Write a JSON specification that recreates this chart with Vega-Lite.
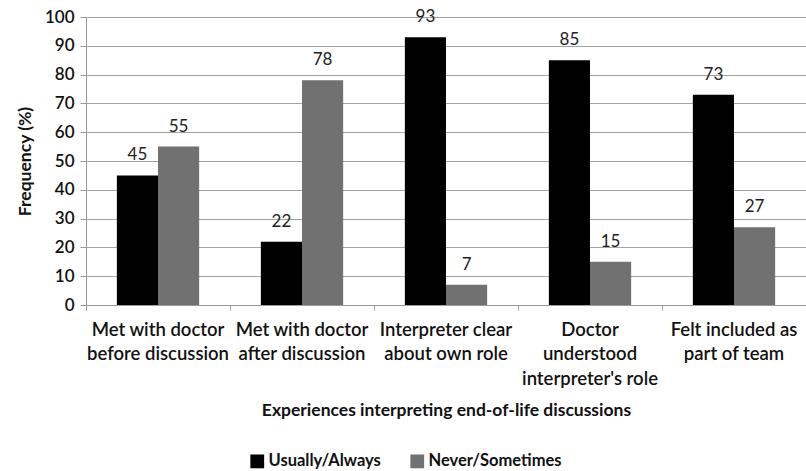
{
  "$schema": "https://vega.github.io/schema/vega-lite/v6.json",
  "autosize": {"type": "none"},
  "width": 720,
  "height": 288,
  "padding": {"left": 86, "top": 17, "right": 0, "bottom": 166},
  "background": "white",
  "config": {
    "font": "Lato",
    "view": {"stroke": null}
  },
  "data": {
    "values": [
      {"cat": "Met with doctor|before discussion", "group": "Usually/Always", "value": 45},
      {"cat": "Met with doctor|before discussion", "group": "Never/Sometimes", "value": 55},
      {"cat": "Met with doctor|after discussion", "group": "Usually/Always", "value": 22},
      {"cat": "Met with doctor|after discussion", "group": "Never/Sometimes", "value": 78},
      {"cat": "Interpreter clear|about own role", "group": "Usually/Always", "value": 93},
      {"cat": "Interpreter clear|about own role", "group": "Never/Sometimes", "value": 7},
      {"cat": "Doctor|understood|interpreter's role", "group": "Usually/Always", "value": 85},
      {"cat": "Doctor|understood|interpreter's role", "group": "Never/Sometimes", "value": 15},
      {"cat": "Felt included as|part of team", "group": "Usually/Always", "value": 73},
      {"cat": "Felt included as|part of team", "group": "Never/Sometimes", "value": 27}
    ]
  },
  "encoding": {
    "x": {
      "field": "cat",
      "type": "nominal",
      "sort": ["Met with doctor|before discussion", "Met with doctor|after discussion", "Interpreter clear|about own role", "Doctor|understood|interpreter's role", "Felt included as|part of team"],
      "scale": {"paddingInner": 0, "paddingOuter": 0},
      "axis": {
        "title": "Experiences interpreting end-of-life discussions",
        "titleFont": "Lato",
        "titleFontSize": 17.5,
        "titleFontWeight": "bold",
        "titleColor": "#111",
        "titlePadding": 14,
        "labelExpr": "split(datum.label, '|')",
        "labelAngle": 0,
        "labelFontSize": 18.5,
        "labelFontWeight": 600,
        "labelColor": "#111",
        "labelLineHeight": 24.5,
        "labelPadding": 10,
        "bandPosition": 0,
        "tickColor": "#999",
        "tickSize": 5,
        "domainColor": "#999",
        "grid": false
      }
    },
    "xOffset": {
      "field": "group",
      "type": "nominal",
      "sort": ["Usually/Always", "Never/Sometimes"],
      "scale": {"paddingInner": 0, "paddingOuter": 0.75}
    },
    "y": {
      "field": "value",
      "type": "quantitative",
      "scale": {"domain": [0, 100]},
      "axis": {
        "title": "Frequency (%)",
        "titleFontSize": 17.5,
        "titleFontWeight": "bold",
        "titleColor": "#111",
        "titlePadding": 10,
        "values": [0, 10, 20, 30, 40, 50, 60, 70, 80, 90, 100],
        "labelFontSize": 17,
        "labelFontWeight": 600,
        "labelColor": "#111",
        "labelPadding": 6,
        "tickColor": "#999",
        "tickSize": 6,
        "domainColor": "#999",
        "gridColor": "#a3a3a3",
        "gridWidth": 1.2
      }
    }
  },
  "layer": [
    {
      "mark": {"type": "bar"},
      "encoding": {
        "color": {
          "field": "group",
          "type": "nominal",
          "scale": {"domain": ["Usually/Always", "Never/Sometimes"], "range": ["#000000", "#717171"]},
          "legend": {
            "title": null,
            "orient": "none",
            "legendX": 163,
            "legendY": 436,
            "direction": "horizontal",
            "symbolType": "square",
            "symbolSize": 190,
            "symbolStrokeWidth": 0,
            "symbolOpacity": 1,
            "labelFontSize": 16.5,
            "labelFontWeight": "bold",
            "labelColor": "#111",
            "columnPadding": 28,
            "labelOffset": 3
          }
        }
      }
    },
    {
      "mark": {"type": "text", "dy": -20, "fontSize": 17, "color": "#222", "font": "Lato"},
      "encoding": {"text": {"field": "value", "type": "quantitative"}}
    }
  ]
}
